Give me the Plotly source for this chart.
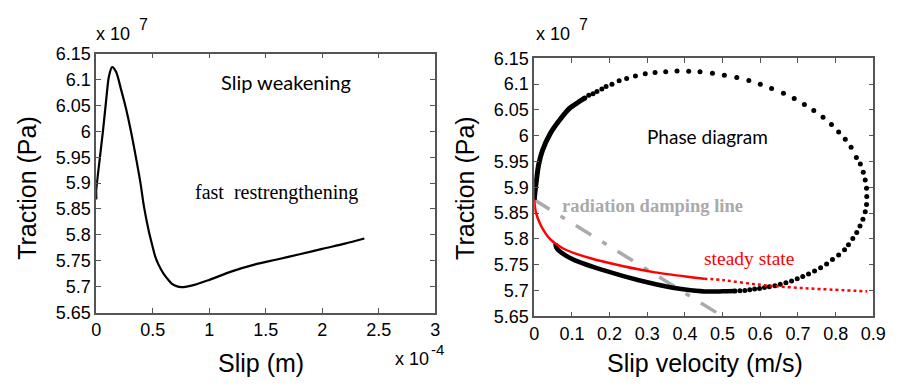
import plotly.graph_objects as go

W, H = 902, 388

# ---------------- data (slip in 1e-4 m, traction in 1e7 Pa) ----------------
slip = [0.0, 0.002, 0.0, 0.003, 0.012, 0.032, 0.061, 0.09, 0.113, 0.141, 0.176, 0.219,
        0.263, 0.306, 0.349, 0.393, 0.422, 0.466, 0.494, 0.523, 0.551, 0.596, 0.624, 0.668,
        0.711, 0.754, 0.87, 1.0, 1.2, 1.4, 1.6, 1.8, 2.0, 2.2, 2.373]
trac_slip = [5.875, 5.87, 5.885, 5.892, 5.91, 5.947, 6.002, 6.063, 6.106, 6.124, 6.115, 6.082,
             6.045, 6.002, 5.953, 5.899, 5.856, 5.807, 5.782, 5.758, 5.743, 5.725, 5.717, 5.706,
             5.701, 5.699, 5.7035, 5.713, 5.7295, 5.7425, 5.7525, 5.7625, 5.773, 5.783, 5.793]

# phase diagram: rising dense branch
vel_up = [0.0, 0.002, 0.006, 0.012, 0.0216, 0.043, 0.069, 0.095, 0.117, 0.1344]
trac_up = [5.876, 5.89, 5.915, 5.945, 5.971, 6.005, 6.032, 6.0539, 6.065, 6.0734]

# phase diagram: sparse time-step dots
vel_dots = [0.1344, 0.1448, 0.156, 0.1665, 0.1795, 0.1907, 0.2063, 0.2254, 0.2453, 0.2687,
            0.2947, 0.3207, 0.349, 0.379, 0.410, 0.440, 0.473, 0.5046, 0.5376, 0.5696,
            0.600, 0.630, 0.6615, 0.690, 0.717, 0.742, 0.7665, 0.789, 0.808, 0.8255,
            0.841, 0.855, 0.8655, 0.8733, 0.8785, 0.882, 0.8826, 0.882, 0.8785, 0.8724,
            0.8646, 0.856, 0.8455, 0.834, 0.8236, 0.808, 0.7915, 0.776, 0.760, 0.744,
            0.728, 0.7127, 0.698, 0.683, 0.668, 0.653, 0.639, 0.624, 0.611, 0.598,
            0.585, 0.572, 0.559, 0.546, 0.533]
trac_dots = [6.0734, 6.0783, 6.0814, 6.0857, 6.0906, 6.0954, 6.0998, 6.1064, 6.1108, 6.1156,
             6.120, 6.1224, 6.124, 6.1255, 6.125, 6.124, 6.121, 6.1175, 6.1127, 6.1071,
             6.0998, 6.0918, 6.0826, 6.0722, 6.0605, 6.0489, 6.036, 6.022, 6.0072, 5.9932,
             5.9778, 5.958, 5.9454, 5.9294, 5.9142, 5.8982, 5.8822, 5.867, 5.8528, 5.838,
             5.8252, 5.8124, 5.8008, 5.789, 5.7793, 5.769, 5.760, 5.7517, 5.7444, 5.7377,
             5.7322, 5.7273, 5.723, 5.7186, 5.715, 5.712, 5.7094, 5.7076, 5.7058, 5.704,
             5.703, 5.7015, 5.7002, 5.6997, 5.699]

# phase diagram: returning dense branch
vel_down = [0.533, 0.50, 0.451, 0.40, 0.364, 0.2775, 0.19, 0.104, 0.069, 0.058, 0.0564]
trac_down = [5.699, 5.6985, 5.6984, 5.702, 5.706, 5.720, 5.738, 5.760, 5.775, 5.784, 5.7916]

# steady state
vel_ss = [0.0, 0.0043, 0.017, 0.043, 0.078, 0.1474, 0.234, 0.3207, 0.416, 0.451]
trac_ss = [5.876, 5.852, 5.827, 5.799, 5.781, 5.763, 5.7475, 5.7352, 5.726, 5.723]
vel_ss2 = [0.451, 0.503, 0.589, 0.676, 0.763, 0.884]
trac_ss2 = [5.723, 5.720, 5.712, 5.7065, 5.7028, 5.6984]

# radiation damping line
vel_rd = [0.0, 0.5]
trac_rd = [5.876, 5.65]

# ticks
xt_left = [0, 0.5, 1, 1.5, 2, 2.5, 3]
xt_left_txt = ["0", "0.5", "1", "1.5", "2", "2.5", "3"]
xt_right = [0, 0.1, 0.2, 0.3, 0.4, 0.5, 0.6, 0.7, 0.8, 0.9]
xt_right_txt = ["0", "0.1", "0.2", "0.3", "0.4", "0.5", "0.6", "0.7", "0.8", "0.9"]
yt = [5.65, 5.7, 5.75, 5.8, 5.85, 5.9, 5.95, 6.0, 6.05, 6.1, 6.15]
yt_txt = ["5.65", "5.7", "5.75", "5.8", "5.85", "5.9", "5.95", "6", "6.05", "6.1", "6.15"]

# ---------------- figure ----------------
fig = go.Figure()

fig.add_trace(go.Scatter(x=slip, y=trac_slip, mode="lines",
                         line=dict(color="black", width=2.2, shape="spline", smoothing=0.8),
                         xaxis="x", yaxis="y", showlegend=False))

fig.add_trace(go.Scatter(x=vel_rd, y=trac_rd, mode="lines",
                         line=dict(color="#aaaaaa", width=3.5, dash="18px,13px,5px,13px"),
                         xaxis="x2", yaxis="y2", showlegend=False))
fig.add_trace(go.Scatter(x=vel_up, y=trac_up, mode="lines",
                         line=dict(color="black", width=5, shape="spline", smoothing=0.8),
                         xaxis="x2", yaxis="y2", showlegend=False))
fig.add_trace(go.Scatter(x=vel_down, y=trac_down, mode="lines",
                         line=dict(color="black", width=4.5, shape="spline", smoothing=0.8),
                         xaxis="x2", yaxis="y2", showlegend=False))
fig.add_trace(go.Scatter(x=vel_dots, y=trac_dots, mode="markers", marker=dict(color="black", size=5),
                         xaxis="x2", yaxis="y2", showlegend=False))
fig.add_trace(go.Scatter(x=vel_ss, y=trac_ss, mode="lines",
                         line=dict(color="red", width=2.5, shape="spline", smoothing=0.8),
                         xaxis="x2", yaxis="y2", showlegend=False))
fig.add_trace(go.Scatter(x=vel_ss2, y=trac_ss2, mode="lines",
                         line=dict(color="red", width=2.5, dash="3px,3px", shape="spline"),
                         xaxis="x2", yaxis="y2", showlegend=False))

axis_common = dict(showline=True, linecolor="#555555", linewidth=1.5, mirror="ticks",
                   ticks="inside", ticklen=5, tickcolor="#555555", tickwidth=1,
                   showgrid=False, zeroline=False,
                   tickfont=dict(family="Liberation Sans, Arial", size=18, color="black"))

fig.update_layout(
    width=W, height=H,
    margin=dict(l=0, r=0, t=0, b=0),
    paper_bgcolor="white", plot_bgcolor="white",
    xaxis=dict(domain=[93 / W, 439 / W], range=[0, 3], tickvals=xt_left, ticktext=xt_left_txt,
               anchor="y", **axis_common),
    yaxis=dict(domain=[1 - 319 / H, 1 - 46 / H], range=[5.65, 6.15], tickvals=yt, ticktext=yt_txt,
               anchor="x", **axis_common),
    xaxis2=dict(domain=[540 / W, 886 / W], range=[0, 0.9], tickvals=xt_right, ticktext=xt_right_txt,
                anchor="y2", **axis_common),
    yaxis2=dict(domain=[1 - 323 / H, 1 - 51 / H], range=[5.65, 6.15], tickvals=yt, ticktext=yt_txt,
                anchor="x2", **axis_common),
)

def ann(text, px, py, size, family="Liberation Sans, Arial", color="black", xanchor="center",
        yanchor="middle", angle=0):
    fig.add_annotation(text=text, x=px / W, y=1 - py / H, xref="paper", yref="paper",
                       showarrow=False, xanchor=xanchor, yanchor=yanchor, textangle=angle,
                       borderpad=0, font=dict(family=family, size=size, color=color))

# axis titles
ann("Traction (Pa)", 23, 188, 25, angle=-90)
ann("Traction (Pa)", 470, 188, 25, angle=-90)
ann("Slip (m)", 261, 372, 25)
ann("Slip velocity (m/s)", 714, 372, 25)
# exponents
ann("x 10", 92, 25, 18, xanchor="left")
ann("7", 136, 15, 16, xanchor="left")
ann("x 10", 541, 25, 18, xanchor="left")
ann("7", 585, 15, 16, xanchor="left")
ann("x 10", 397, 368, 18, xanchor="left")
ann("-4", 434, 358, 15, xanchor="left")
# in-plot texts
ann("Slip weakening", 287, 76, 20, family="Lato, Noto Sans")
ann("fast\u00a0\u00a0restrengthening", 277, 192, 20, family="Liberation Serif, Times New Roman")
ann("Phase diagram", 717, 133, 19, family="Lato, Noto Sans")
ann("<b>radiation damping line</b>", 567, 207, 18.5, family="Liberation Serif, Times New Roman",
    color="#aaaaaa", xanchor="left")
ann("steady state", 712, 262, 19.5, family="Liberation Serif, Times New Roman", color="red",
    xanchor="left")

fig.write_html("out.html")
